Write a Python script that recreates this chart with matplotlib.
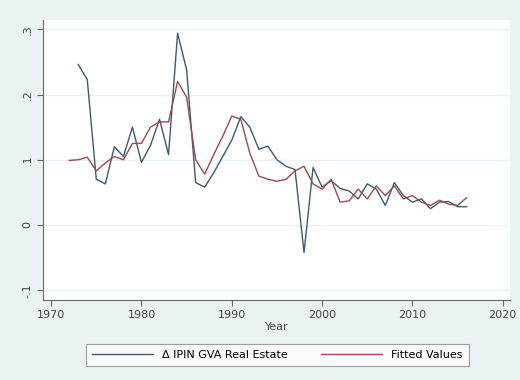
import matplotlib
matplotlib.use("Agg")
import matplotlib.pyplot as plt

years_actual = list(range(1973, 2017))
actual = [0.246, 0.223, 0.070, 0.063, 0.120, 0.105, 0.150, 0.096, 0.122, 0.162,
          0.108, 0.294, 0.238, 0.065, 0.058, 0.080, 0.105, 0.130, 0.166, 0.150,
          0.116, 0.121, 0.100, 0.090, 0.085, -0.042, 0.088, 0.058, 0.068, 0.056,
          0.052, 0.040, 0.063, 0.055, 0.030, 0.065, 0.045, 0.035, 0.040, 0.025,
          0.035, 0.036, 0.028, 0.028]

years_fitted = list(range(1972, 2017))
fitted = [0.099, 0.100, 0.104, 0.083, 0.095, 0.105, 0.100, 0.125, 0.125, 0.150,
          0.158, 0.158, 0.220, 0.196, 0.100, 0.078, 0.108, 0.136, 0.167, 0.162,
          0.110, 0.075, 0.070, 0.067, 0.070, 0.083, 0.090, 0.063, 0.055, 0.070,
          0.035, 0.037, 0.055, 0.040, 0.060, 0.045, 0.060, 0.040, 0.045, 0.035,
          0.030, 0.038, 0.032, 0.030, 0.042]

xticks = [1970, 1980, 1990, 2000, 2010, 2020]
yticks = [-0.1, 0, 0.1, 0.2, 0.3]
ylabels = ["-.1", "0", ".1", ".2", ".3"]

bg = "#EAF2F3"
fig = plt.figure(figsize=(5.2, 3.8), dpi=100, facecolor=bg)
ax = fig.add_axes([0.0827, 0.2105, 0.898, 0.7365], facecolor="white")

ax.plot(years_actual, actual, color="#3A5A7A", lw=1.0, label="\u0394 IPIN GVA Real Estate")
ax.plot(years_fitted, fitted, color="#9A4A52", lw=1.0, label="Fitted Values")

ax.set_xlim(1969.1, 2020.8)
ax.set_ylim(-0.115, 0.314)
ax.set_xticks(xticks)
ax.set_xticklabels([str(x) for x in xticks], fontsize=8, color="#444444")
ax.set_yticks(yticks)
ax.set_yticklabels(ylabels, fontsize=8, rotation=90, va="center", color="#444444")
ax.grid(axis="y", color="#EAF2F3", lw=1)
ax.set_axisbelow(True)
for s in ["top", "right"]:
    ax.spines[s].set_visible(False)
for s in ["left", "bottom"]:
    ax.spines[s].set_color("#666666")
    ax.spines[s].set_linewidth(0.8)
ax.tick_params(axis="both", color="#666666", length=4, width=0.8)
ax.set_xlabel("Year", fontsize=8, labelpad=1, color="#444444")

handles, labels = ax.get_legend_handles_labels()
leg = fig.legend(handles, labels, loc="center", bbox_to_anchor=(0.533, 0.0658), ncol=2,
                 fontsize=8, frameon=True, fancybox=False, handlelength=5.5,
                 columnspacing=3.0, borderpad=0.55, edgecolor="#888888")
leg.get_frame().set_linewidth(0.8)

fig.savefig("out.png", dpi=100, facecolor=bg)
